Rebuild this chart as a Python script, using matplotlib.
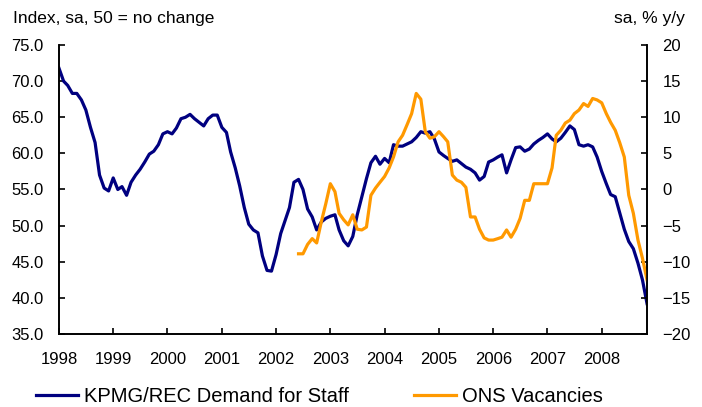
import pandas as pd
import matplotlib
matplotlib.use("Agg")
import matplotlib.pyplot as plt

plt.rcParams['font.family'] = ['Liberation Sans', 'DejaVu Sans']

# KPMG/REC Demand for Staff index, monthly Jan 1998 - Nov 2008 (left axis)
kpmg = [
    71.8, 70.0, 69.4, 68.3, 68.3, 67.4, 66.0, 63.6, 61.5, 57.0, 55.2, 54.8,  # 1998
    56.6, 55.0, 55.4, 54.2, 56.0, 57.0, 57.8, 58.8, 59.9, 60.3, 61.2, 62.7,  # 1999
    63.0, 62.7, 63.5, 64.8, 65.0, 65.4, 64.8, 64.3, 63.8, 64.8, 65.3, 65.3,  # 2000
    63.6, 62.9, 60.2, 58.0, 55.5, 52.5, 50.2, 49.4, 49.0, 45.8, 43.8, 43.7,  # 2001
    46.0, 48.9, 50.6, 52.5, 56.0, 56.4, 55.0, 52.3, 51.2, 49.4, 50.5, 51.0,  # 2002
    51.3, 51.5, 49.4, 47.9, 47.2, 48.5, 51.5, 54.0, 56.5, 58.7, 59.6, 58.5,  # 2003
    59.3, 58.7, 61.2, 61.0, 61.0, 61.3, 61.6, 62.2, 63.0, 62.8, 63.0, 62.0,  # 2004
    60.2, 59.7, 59.3, 58.9, 59.1, 58.6, 58.1, 57.8, 57.3, 56.3, 56.8, 58.8,  # 2005
    59.1, 59.5, 59.8, 57.3, 59.1, 60.8, 60.9, 60.3, 60.6, 61.3, 61.8, 62.2,  # 2006
    62.7, 62.0, 61.6, 62.1, 62.9, 63.8, 63.3, 61.2, 61.0, 61.2, 60.9, 59.5,  # 2007
    57.5, 55.8, 54.3, 54.0, 51.8, 49.5, 47.8, 46.8, 44.8, 42.5, 39.2,        # 2008
]

# ONS Vacancies, % y/y, monthly Jun 2002 - Nov 2008 (right axis)
ons = [
    -8.9, -8.9, -7.6, -6.8, -7.4, -4.5, -2.0,                                # 2002
    0.8, -0.3, -3.3, -4.2, -4.9, -3.5, -5.5, -5.6, -5.2, -0.8, 0.2, 1.0,     # 2003
    1.8, 3.0, 4.5, 6.6, 7.5, 9.0, 10.5, 13.3, 12.5, 8.0, 7.1, 7.3,           # 2004
    8.0, 7.3, 6.6, 2.0, 1.3, 1.0, 0.3, -3.8, -3.8, -5.5, -6.7, -7.0,         # 2005
    -7.0, -6.8, -6.6, -5.6, -6.6, -5.5, -4.0, -1.5, -1.5, 0.8, 0.8, 0.8,     # 2006
    0.8, 3.0, 7.5, 8.2, 9.2, 9.6, 10.5, 11.0, 11.9, 11.5, 12.6, 12.4,        # 2007
    12.0, 10.5, 9.3, 8.2, 6.5, 4.5, -0.8, -3.3, -7.0, -9.5, -12.5,           # 2008
]

kpmg_dates = pd.date_range("1998-01-01", periods=len(kpmg), freq="MS")
ons_dates = pd.date_range("2002-06-01", periods=len(ons), freq="MS")
years = list(range(1998, 2009))

navy = "#000080"
orange = "#FF9900"

fig = plt.figure(figsize=(7.02, 4.07), dpi=100)
ax = fig.add_axes([0.084, 0.1794, 0.8377, 0.71])
ax2 = ax.twinx()

l1, = ax.plot(kpmg_dates, kpmg, color=navy, lw=2.3, label="KPMG/REC Demand for Staff")
l2, = ax2.plot(ons_dates, ons, color=orange, lw=2.3, label="ONS Vacancies")

ax.set_xlim(kpmg_dates[0], kpmg_dates[-1])
ax.set_ylim(35, 75)
ax2.set_ylim(-20, 20)
ax.set_yticks(range(35, 76, 5))
ax.set_yticklabels(["%.1f" % v for v in range(35, 76, 5)])
ax2.set_yticks(range(-20, 21, 5))
ax.set_xticks(pd.to_datetime(["%d-01-01" % y for y in years]))
ax.set_xticklabels([str(y) for y in years])

for a in (ax, ax2):
    a.spines['top'].set_visible(False)
    for s in a.spines.values():
        s.set_linewidth(1.2)
    a.tick_params(direction='in', length=4, width=1.2, labelsize=12, pad=11)
ax.tick_params(axis='x', pad=13)

fig.text(0.018, 0.955, "Index, sa, 50 = no change", fontsize=12.5, va='center')
fig.text(0.975, 0.955, "sa, % y/y", fontsize=12.5, va='center', ha='right')

fig.legend(handles=[l1, l2], loc='center', bbox_to_anchor=(0.455, 0.025), ncol=2,
           frameon=False, fontsize=14.5, handlelength=2.1, handletextpad=0.3,
           columnspacing=3.2)

fig.savefig("out.png", dpi=100)
